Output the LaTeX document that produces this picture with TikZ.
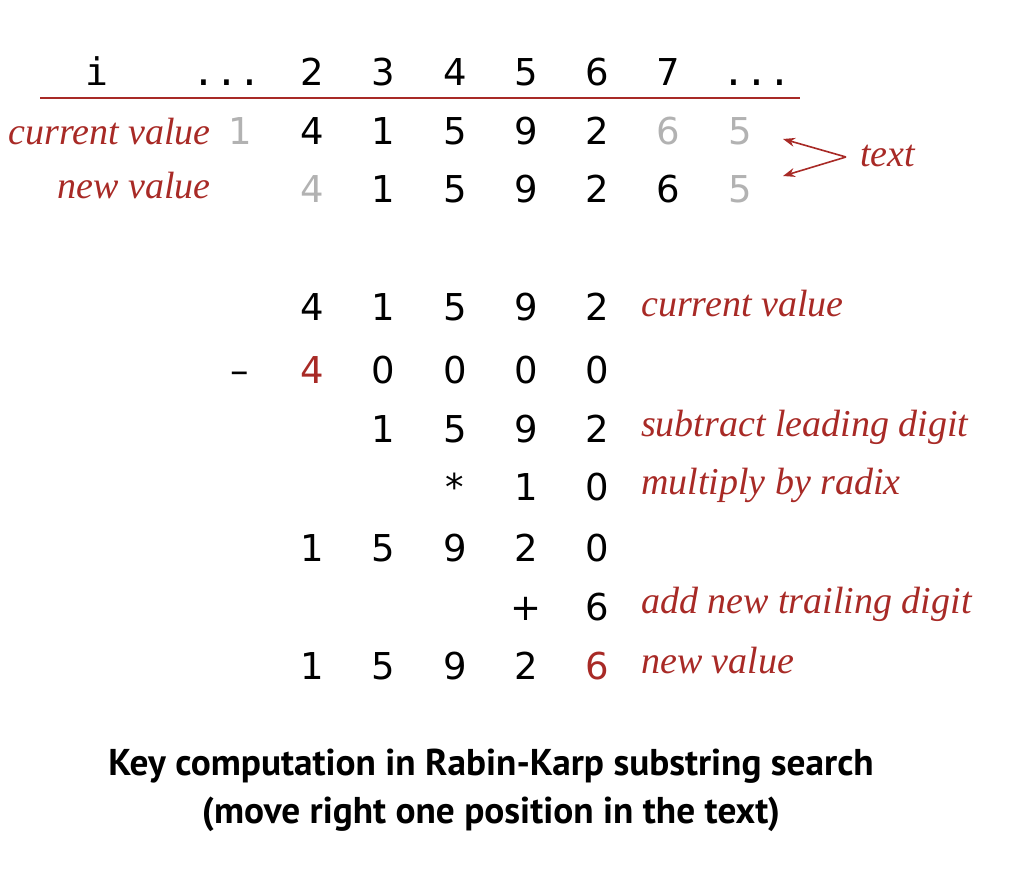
\documentclass[tikz,border=0pt]{standalone}
\usepackage{fontspec}
\setmainfont{Liberation Serif}
\newfontfamily\digf{DejaVu Sans}
\newfontfamily\monof{DejaVu Sans Mono}
\newfontfamily\capf{PT Sans}
\usetikzlibrary{arrows.meta}
\definecolor{bookred}{RGB}{168,42,38}
\definecolor{lightgray}{RGB}{178,178,178}
\begin{document}
\begin{tikzpicture}[x=1pt,y=-1pt,
  dg/.style={inner sep=0pt, anchor=base, font=\digf\fontsize{37}{40}\selectfont, text=black},
  mono/.style={inner sep=0pt, anchor=base, font=\monof\fontsize{38}{40}\selectfont, text=black},
  gr/.style={text=lightgray},
  rd/.style={text=bookred},
  lab/.style={inner sep=0pt, anchor=base west, font=\itshape\fontsize{38}{40}\selectfont, text=bookred},
  labr/.style={inner sep=0pt, anchor=base east, font=\itshape\fontsize{38}{40}\selectfont, text=bookred},
  captext/.style={inner sep=0pt, anchor=base, font=\capf\bfseries\fontsize{37.3}{40}\selectfont, text=black},
  redline/.style={draw=bookred, line width=2pt},
  tarrow/.style={draw=bookred, line width=1.6pt, -{Stealth[length=12pt,width=9pt]}}
]
\useasboundingbox (0,0) rectangle (1016,880);
% header row
\node[mono] (hi) at (97,86) {i};
\node[mono] (hdots) at (227,86) {...};
\node[dg] (h2) at (312,86) {2};
\node[dg] (h3) at (383,86) {3};
\node[dg] (h4) at (455,86) {4};
\node[dg] (h5) at (526,86) {5};
\node[dg] (h6) at (597,86) {6};
\node[dg] (h7) at (668,86) {7};
\node[mono] (hdots2) at (757,86) {...};
\coordinate (l1) at (40,98);
\coordinate (l2) at (800,98);
\draw[redline] (l1) -- (l2);
% current value row
\node[labr] (cvl) at (211,144) {current value};
\node[dg,gr] (c1) at (240,144) {1};
\node[dg] (c2) at (312,144) {4};
\node[dg] (c3) at (383,144) {1};
\node[dg] (c4) at (455,144) {5};
\node[dg] (c5) at (526,144) {9};
\node[dg] (c6) at (597,144) {2};
\node[dg,gr] (c7) at (668,144) {6};
\node[dg,gr] (c8) at (740,144) {5};
% new value row
\node[labr] (nvl) at (211,198) {new value};
\node[dg,gr] (n2) at (312,202) {4};
\node[dg] (n3) at (383,202) {1};
\node[dg] (n4) at (455,202) {5};
\node[dg] (n5) at (526,202) {9};
\node[dg] (n6) at (597,202) {2};
\node[dg] (n7) at (668,202) {6};
\node[dg,gr] (n8) at (740,202) {5};
% text label with arrows
\node[lab] (txt) at (860,166) {text};
\coordinate (ta) at (846,157);
\coordinate (t1) at (783,139);
\coordinate (t2) at (783,176);
\draw[tarrow] (ta) -- (t1);
\draw[tarrow] (ta) -- (t2);
% computation
\node[dg] (a1) at (312,320) {4};
\node[dg] (a2) at (383,320) {1};
\node[dg] (a3) at (455,320) {5};
\node[dg] (a4) at (526,320) {9};
\node[dg] (a5) at (597,320) {2};
\node[lab] (la) at (641,316) {current value};

\node[dg] (bm) at (240,383) {–};
\node[dg,rd] (b1) at (312,383) {4};
\node[dg] (b2) at (383,383) {0};
\node[dg] (b3) at (455,383) {0};
\node[dg] (b4) at (526,383) {0};
\node[dg] (b5) at (597,383) {0};

\node[dg] (c2b) at (383,442) {1};
\node[dg] (c3b) at (455,442) {5};
\node[dg] (c4b) at (526,442) {9};
\node[dg] (c5b) at (597,442) {2};
\node[lab] (lc) at (641,436) {subtract leading digit};

\node[dg] (d3) at (455,500) {*};
\node[dg] (d4) at (526,500) {1};
\node[dg] (d5) at (597,500) {0};
\node[lab] (ld) at (641,494) {multiply by radix};

\node[dg] (e1) at (312,561) {1};
\node[dg] (e2) at (383,561) {5};
\node[dg] (e3) at (455,561) {9};
\node[dg] (e4) at (526,561) {2};
\node[dg] (e5) at (597,561) {0};

\node[dg] (f4) at (526,620) {+};
\node[dg] (f5) at (597,620) {6};
\node[lab] (lf) at (641,613) {add new trailing digit};

\node[dg] (g1) at (312,679) {1};
\node[dg] (g2) at (383,679) {5};
\node[dg] (g3) at (455,679) {9};
\node[dg] (g4) at (526,679) {2};
\node[dg,rd] (g5) at (597,679) {6};
\node[lab] (lg) at (641,673) {new value};

% caption
\node[captext] (cap1) at (491,775) {Key computation in Rabin-Karp substring search};
\node[captext] (cap2) at (491,823) {(move right one position in the text)};
\end{tikzpicture}
\end{document}
